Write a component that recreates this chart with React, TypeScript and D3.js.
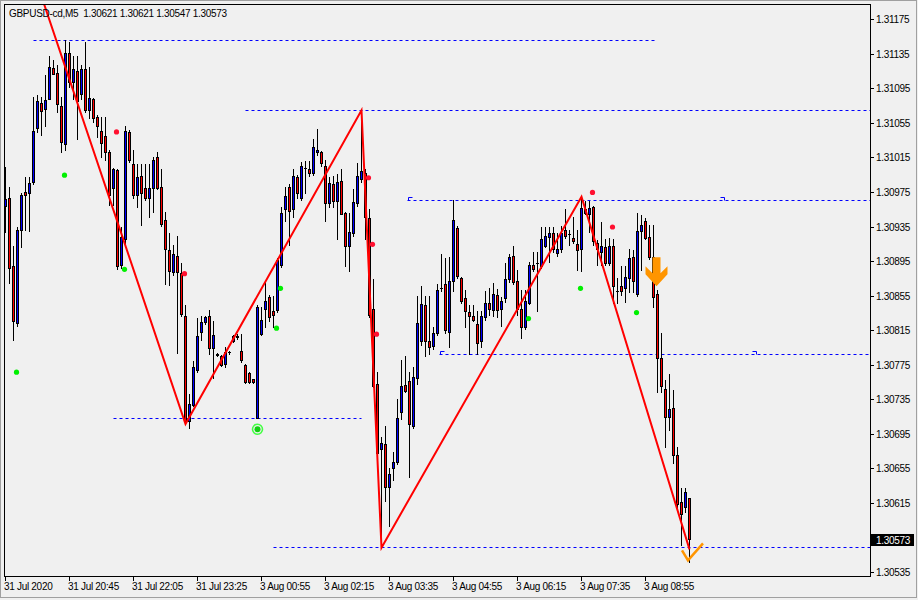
import { useEffect, useRef } from 'react';
import * as d3 from 'd3';

// =============================================================================
// Data
// =============================================================================

const headerText = 'GBPUSD-cd,M5  1.30621 1.30621 1.30547 1.30573';

// open, high, low, close — one per 5 minute bar
const bars: [number, number, number, number][] = [
  [1.30959, 1.31004, 1.30929, 1.30967], [1.30968, 1.30981, 1.3087, 1.30887], [1.30889, 1.30912, 1.30804, 1.30826],
  [1.30823, 1.30934, 1.3082, 1.30931], [1.30931, 1.30974, 1.30911, 1.30972], [1.30975, 1.30992, 1.30931, 1.30972],
  [1.30974, 1.30992, 1.3093, 1.30985], [1.30987, 1.31085, 1.30984, 1.31045], [1.31049, 1.31087, 1.31044, 1.3108],
  [1.31078, 1.31085, 1.31041, 1.31069], [1.31071, 1.3111, 1.31051, 1.31081], [1.31082, 1.31132, 1.31082, 1.3112],
  [1.31118, 1.31128, 1.31111, 1.31112], [1.31113, 1.31122, 1.31067, 1.31077], [1.31075, 1.31085, 1.31021, 1.31033],
  [1.3103, 1.31151, 1.31024, 1.31136], [1.31136, 1.31148, 1.31096, 1.31102], [1.31102, 1.31132, 1.31082, 1.31117],
  [1.31115, 1.31132, 1.31036, 1.3108], [1.31088, 1.31122, 1.31082, 1.31117], [1.31117, 1.31148, 1.31067, 1.3107],
  [1.3107, 1.3112, 1.31061, 1.31084], [1.31083, 1.31084, 1.31056, 1.31061], [1.31062, 1.31064, 1.31039, 1.31051],
  [1.31045, 1.31062, 1.31015, 1.31032], [1.3104, 1.31062, 1.31012, 1.31021], [1.31021, 1.31024, 1.3096, 1.30971],
  [1.3098, 1.31003, 1.3096, 1.31001], [1.31, 1.31001, 1.30886, 1.30889], [1.3089, 1.30934, 1.30887, 1.30923],
  [1.30921, 1.31051, 1.30916, 1.31045], [1.31044, 1.31047, 1.3101, 1.31012], [1.31007, 1.31024, 1.30968, 1.30971],
  [1.30972, 1.31007, 1.30958, 1.30992], [1.30994, 1.31007, 1.30937, 1.30974], [1.30979, 1.31007, 1.30966, 1.30968],
  [1.30968, 1.31007, 1.30946, 1.3098], [1.3098, 1.31016, 1.30952, 1.31012], [1.31016, 1.31021, 1.30978, 1.3098],
  [1.30981, 1.31001, 1.30936, 1.30938], [1.30942, 1.30952, 1.30868, 1.30909], [1.30908, 1.30928, 1.30867, 1.30883],
  [1.30882, 1.30914, 1.30879, 1.30903], [1.30901, 1.30924, 1.30789, 1.30882], [1.30881, 1.30893, 1.30832, 1.30834],
  [1.30832, 1.30844, 1.30707, 1.3071], [1.3071, 1.30741, 1.30702, 1.3073], [1.30729, 1.30779, 1.30727, 1.30772],
  [1.30769, 1.30829, 1.30767, 1.30808], [1.30813, 1.30831, 1.30804, 1.30824], [1.30824, 1.30832, 1.30822, 1.3083],
  [1.30831, 1.30838, 1.30788, 1.30794], [1.30794, 1.30826, 1.3076, 1.30809], [1.30787, 1.30789, 1.30785, 1.30786],
  [1.30785, 1.30786, 1.30774, 1.30775], [1.30776, 1.30796, 1.30773, 1.3079], [1.3079, 1.30791, 1.30787, 1.3079],
  [1.30802, 1.3081, 1.30801, 1.30808], [1.30808, 1.30811, 1.30805, 1.30807], [1.30791, 1.30811, 1.30778, 1.3078],
  [1.30775, 1.30776, 1.30754, 1.30755], [1.30766, 1.30767, 1.30754, 1.30755], [1.30758, 1.30758, 1.30754, 1.30755],
  [1.30714, 1.30844, 1.30713, 1.30842], [1.30811, 1.30842, 1.3081, 1.30827], [1.3084, 1.30871, 1.30819, 1.30849],
  [1.30854, 1.30856, 1.30826, 1.3083], [1.30837, 1.30855, 1.30819, 1.30833], [1.30838, 1.30898, 1.30836, 1.30896],
  [1.3089, 1.30957, 1.30888, 1.30951], [1.30955, 1.30981, 1.30941, 1.3097], [1.30981, 1.30984, 1.30914, 1.30953],
  [1.30955, 1.31002, 1.30946, 1.30994], [1.30992, 1.30995, 1.30968, 1.30974], [1.30968, 1.3101, 1.30966, 1.31005],
  [1.31003, 1.31011, 1.30974, 1.31003], [1.31002, 1.31011, 1.30993, 1.30997], [1.30997, 1.31036, 1.30995, 1.31027],
  [1.31021, 1.31048, 1.31018, 1.31023], [1.31021, 1.31022, 1.31005, 1.31008], [1.31005, 1.31012, 1.30941, 1.30962],
  [1.30962, 1.30992, 1.30958, 1.30985], [1.30984, 1.30994, 1.30958, 1.30964], [1.30964, 1.30996, 1.3092, 1.30987],
  [1.30988, 1.31001, 1.30949, 1.3095], [1.30951, 1.30952, 1.30889, 1.30912], [1.30913, 1.30951, 1.30883, 1.30929],
  [1.30927, 1.30978, 1.30924, 1.30963], [1.30962, 1.31009, 1.30959, 1.30993], [1.3099, 1.3107, 1.30987, 1.30999],
  [1.30997, 1.31001, 1.3092, 1.30946], [1.30945, 1.30955, 1.3083, 1.30833], [1.3084, 1.30874, 1.30749, 1.30751],
  [1.30753, 1.30767, 1.30665, 1.30673], [1.30677, 1.30691, 1.30564, 1.30685], [1.30683, 1.30704, 1.30617, 1.30634],
  [1.30634, 1.30655, 1.30588, 1.30649], [1.30655, 1.30674, 1.30642, 1.30663], [1.30662, 1.30735, 1.3066, 1.30714],
  [1.3072, 1.30781, 1.30712, 1.30751], [1.30752, 1.30785, 1.30744, 1.30745], [1.30756, 1.30767, 1.30645, 1.30707],
  [1.30704, 1.30773, 1.30702, 1.30761], [1.3076, 1.30855, 1.30753, 1.30823], [1.30802, 1.30866, 1.30798, 1.30845],
  [1.30844, 1.30855, 1.30785, 1.30802], [1.30802, 1.30855, 1.30787, 1.30796], [1.30797, 1.30819, 1.30793, 1.30812],
  [1.30812, 1.30868, 1.3081, 1.30861], [1.30864, 1.30903, 1.3086, 1.30864], [1.30869, 1.30899, 1.30812, 1.30815],
  [1.30813, 1.309, 1.30796, 1.30872], [1.30872, 1.30966, 1.3086, 1.30942], [1.30933, 1.30936, 1.30876, 1.30878],
  [1.30875, 1.30877, 1.30847, 1.30849], [1.30852, 1.30862, 1.30819, 1.30837], [1.30836, 1.30844, 1.30787, 1.30831],
  [1.30832, 1.30844, 1.30826, 1.30827], [1.30822, 1.30837, 1.30788, 1.308], [1.30803, 1.30837, 1.30796, 1.30832],
  [1.3083, 1.3086, 1.30827, 1.30846], [1.30847, 1.30864, 1.30833, 1.30839], [1.30838, 1.3087, 1.30831, 1.30857],
  [1.30856, 1.30863, 1.3083, 1.30838], [1.30839, 1.30853, 1.3082, 1.30849], [1.30852, 1.30893, 1.30848, 1.30874],
  [1.30874, 1.30903, 1.30871, 1.309], [1.30901, 1.30912, 1.30869, 1.30871], [1.30872, 1.30885, 1.30833, 1.3084],
  [1.3084, 1.30862, 1.30806, 1.30819], [1.30819, 1.30862, 1.30816, 1.30849], [1.30847, 1.30894, 1.30845, 1.30891],
  [1.3089, 1.30905, 1.30883, 1.30886], [1.30893, 1.30905, 1.30837, 1.30893], [1.30889, 1.30935, 1.30887, 1.3092],
  [1.30913, 1.30935, 1.30911, 1.30924], [1.30923, 1.30935, 1.30894, 1.30928], [1.30927, 1.30935, 1.30906, 1.30909],
  [1.30904, 1.30928, 1.30901, 1.30909], [1.30909, 1.30936, 1.30905, 1.30928], [1.30931, 1.30955, 1.30922, 1.30924],
  [1.30926, 1.30931, 1.30914, 1.30926], [1.30922, 1.30946, 1.30916, 1.30918], [1.30915, 1.30931, 1.30885, 1.30908],
  [1.30909, 1.3097, 1.30883, 1.30956], [1.30951, 1.30964, 1.30949, 1.30955], [1.3095, 1.30964, 1.30929, 1.30956],
  [1.30957, 1.30959, 1.30914, 1.30918], [1.30916, 1.30919, 1.30891, 1.30909], [1.30905, 1.3094, 1.30891, 1.30913],
  [1.30911, 1.30921, 1.30891, 1.30893], [1.30893, 1.30922, 1.3089, 1.30912], [1.30913, 1.3092, 1.30846, 1.30866],
  [1.3086, 1.30876, 1.30847, 1.3086], [1.30866, 1.30889, 1.30856, 1.3086], [1.30864, 1.30889, 1.30848, 1.30877],
  [1.30876, 1.30909, 1.30859, 1.30898], [1.309, 1.30908, 1.30859, 1.30872], [1.30857, 1.30951, 1.30855, 1.3093],
  [1.3093, 1.30948, 1.30885, 1.30937], [1.30941, 1.30945, 1.3092, 1.30922], [1.30923, 1.30937, 1.30897, 1.309],
  [1.309, 1.30937, 1.30842, 1.30853], [1.30857, 1.30862, 1.30744, 1.30783], [1.30783, 1.30812, 1.30744, 1.30751],
  [1.30747, 1.30757, 1.3068, 1.30715], [1.30715, 1.30764, 1.307, 1.30724], [1.30725, 1.30746, 1.30661, 1.30671],
  [1.30671, 1.3068, 1.30607, 1.30614], [1.30616, 1.30632, 1.30567, 1.30602], [1.30611, 1.30633, 1.30605, 1.30628],
  [1.30621, 1.30621, 1.30547, 1.30573],
];

const priceTicks = [
  1.31175, 1.31135, 1.31095, 1.31055, 1.31015, 1.30975, 1.30935, 1.30895, 1.30855,
  1.30815, 1.30775, 1.30735, 1.30695, 1.30655, 1.30615, 1.30535,
];

const timeTickBars = [0, 16, 32, 48, 64, 80, 96, 112, 128, 144, 160];
const timeTickLabels = [
  '31 Jul 2020', '31 Jul 20:45', '31 Jul 22:05', '31 Jul 23:25', '3 Aug 00:55', '3 Aug 02:15',
  '3 Aug 03:35', '3 Aug 04:55', '3 Aug 06:15', '3 Aug 07:35', '3 Aug 08:55',
];

const zigzagBars = [-2, 45, 89, 94, 144, 171];
const zigzagPrices = [1.31353, 1.30707, 1.3107, 1.30564, 1.3097, 1.30562];

// horizontal levels: price, first bar, last bar (null = to the right edge)
const levelPrices = [1.31151, 1.3107, 1.30966, 1.30787, 1.30713, 1.30564];
const levelFrom = [7, 60, 100.5, 108.5, 27, 67];
const levelTo: (number | null)[] = [162.5, null, null, null, 89, null];
const levelMarks: number[][] = [[], [], [100.5, 178.5], [108.5, 186.5], [], []];

const greenDotBars = [3, 15, 30, 68, 69, 131, 144, 158];
const greenDotPrices = [1.30767, 1.30995, 1.30886, 1.30818, 1.30864, 1.30829, 1.30864, 1.30836];
const redDotBars = [28, 45, 91, 92, 93, 147, 152];
const redDotPrices = [1.31045, 1.30881, 1.30992, 1.30915, 1.30811, 1.30975, 1.30935];

const targetBar = 63;
const targetPrice = 1.30701;
const sellArrowBar = 163;
const sellArrowPrice = 1.309;
const checkBar = 171;
const checkPrice = 1.30547;
const lastPrice = 1.30573;

// =============================================================================
// Constants
// =============================================================================

const WIDTH = 918;
const HEIGHT = 600;
const FRAME = { left: 4, top: 4, right: 870, bottom: 576 };
const FONT = 'Liberation Sans, Arial, sans-serif';
const BG = '#f0f0f0';
const BULL = '#0000ff';
const BEAR = '#ff0000';
const ORANGE = '#ff9500';

// =============================================================================
// Component
// =============================================================================

export default function App() {
  const svgRef = useRef<SVGSVGElement>(null);

  useEffect(() => {
    document.body.style.margin = '0';
    if (!svgRef.current) return;
    const svg = d3.select(svgRef.current);
    svg.selectAll('*').remove();

    // bar index -> pixel column centre, price -> pixel
    const x = d3.scaleLinear().domain([0, 1]).range([5.5, 9.5]);
    const y = d3.scaleLinear().domain([1.30535, 1.31175]).range([572.7, 19.6]);
    const row = (p: number) => Math.floor(y(p));

    // backgrounds
    svg.append('rect').attr('width', WIDTH).attr('height', HEIGHT).attr('fill', BG);
    svg.append('rect')
      .attr('x', 0.5).attr('y', 0.5)
      .attr('width', 916).attr('height', 597)
      .attr('fill', 'none').attr('stroke', '#a0a0a0');

    svg.append('defs').append('clipPath').attr('id', 'plot')
      .append('rect')
      .attr('x', FRAME.left + 1).attr('y', FRAME.top + 1)
      .attr('width', FRAME.right - FRAME.left - 1)
      .attr('height', FRAME.bottom - FRAME.top - 1);

    const plot = svg.append('g').attr('clip-path', 'url(#plot)');

    // levels
    levelPrices.forEach((p, i) => {
      const yy = row(p) + 0.5;
      const x2 = levelTo[i] === null ? FRAME.right : x(levelTo[i] as number);
      plot.append('line')
        .attr('x1', x(levelFrom[i])).attr('x2', x2)
        .attr('y1', yy).attr('y2', yy)
        .attr('stroke', '#0000ff').attr('stroke-width', 1)
        .attr('stroke-dasharray', '3,3');
      levelMarks[i].forEach((b, k) => {
        const mx = Math.round(x(b)) + 0.5;
        const d = k === 0
          ? `M${mx},${yy} V${yy - 3} H${mx + 4}`
          : `M${mx},${yy - 3} H${mx + 4} V${yy}`;
        plot.append('path').attr('d', d)
          .attr('fill', 'none').attr('stroke', '#0000ff').attr('stroke-width', 1);
      });
    });

    // candles: black wick, black-outlined body with coloured core
    bars.forEach(([o, h, l, c], i) => {
      const cx = x(i);
      const hi = row(h);
      const lo = row(l);
      plot.append('line')
        .attr('x1', cx).attr('x2', cx)
        .attr('y1', hi).attr('y2', lo + 1)
        .attr('stroke', '#000').attr('stroke-width', 1);
      const top = row(Math.max(o, c));
      const bot = row(Math.min(o, c));
      plot.append('rect')
        .attr('x', cx - 1.5).attr('y', top)
        .attr('width', 3).attr('height', bot - top + 1)
        .attr('fill', '#000');
      if (bot - top >= 2) {
        plot.append('rect')
          .attr('x', cx - 0.5).attr('y', top + 1)
          .attr('width', 1).attr('height', bot - top - 1)
          .attr('fill', c >= o ? BULL : BEAR);
      }
    });

    // zigzag
    const zz = d3.line<number>()
      .x((b) => x(b))
      .y((_, k) => y(zigzagPrices[k]));
    plot.append('path')
      .attr('d', zz(zigzagBars))
      .attr('fill', 'none')
      .attr('stroke', '#ff0000')
      .attr('stroke-width', 2);

    // signal dots
    greenDotBars.forEach((b, k) => {
      plot.append('circle')
        .attr('cx', x(b) - 1).attr('cy', y(greenDotPrices[k]))
        .attr('r', 2.6).attr('fill', '#00f000');
    });
    redDotBars.forEach((b, k) => {
      plot.append('circle')
        .attr('cx', x(b) - 1).attr('cy', y(redDotPrices[k]))
        .attr('r', 2.6).attr('fill', '#ff1030');
    });

    // target marker
    const tx = x(targetBar);
    const ty = y(targetPrice);
    plot.append('circle').attr('cx', tx).attr('cy', ty).attr('r', 5)
      .attr('fill', 'none').attr('stroke', '#44ff44').attr('stroke-width', 1.6);
    plot.append('circle').attr('cx', tx).attr('cy', ty).attr('r', 3)
      .attr('fill', '#10d010');

    // sell arrow
    const ax = x(sellArrowBar) - 1;
    const ay = y(sellArrowPrice);
    plot.append('path')
      .attr('d', `M${ax - 4},${ay} H${ax + 4} V${ay + 16} L${ax + 11},${ay + 9} V${ay + 17}
        L${ax},${ay + 29} L${ax - 11},${ay + 17} V${ay + 9} L${ax - 4},${ay + 16} Z`)
      .attr('fill', ORANGE);

    // check mark
    const kx = x(checkBar);
    const ky = y(checkPrice);
    plot.append('path')
      .attr('d', `M${kx - 7.5},${ky - 12} L${kx - 1.5},${ky - 2} L${kx + 13.5},${ky - 19}`)
      .attr('fill', 'none')
      .attr('stroke', ORANGE)
      .attr('stroke-width', 2.5);

    // frame
    svg.append('rect')
      .attr('x', FRAME.left + 0.5).attr('y', FRAME.top + 0.5)
      .attr('width', FRAME.right - FRAME.left).attr('height', FRAME.bottom - FRAME.top)
      .attr('fill', 'none').attr('stroke', '#000').attr('stroke-width', 1);

    // price axis
    priceTicks.forEach((p) => {
      const yy = row(p) + 0.5;
      svg.append('line')
        .attr('x1', FRAME.right + 1).attr('x2', FRAME.right + 4)
        .attr('y1', yy).attr('y2', yy)
        .attr('stroke', '#000');
      svg.append('text')
        .attr('x', 876).attr('y', yy + 3.5)
        .attr('font-family', FONT).attr('font-size', '10px')
        .attr('letter-spacing', '-0.3px')
        .attr('fill', '#000')
        .text(p.toFixed(5));
    });

    // last price tag
    const ly = Math.round(y(lastPrice));
    svg.append('rect')
      .attr('x', FRAME.right + 1).attr('y', ly - 6)
      .attr('width', 43).attr('height', 12)
      .attr('fill', '#000');
    svg.append('text')
      .attr('x', 876).attr('y', ly + 4)
      .attr('font-family', FONT).attr('font-size', '10px')
      .attr('letter-spacing', '-0.3px')
      .attr('fill', '#fff')
      .text(lastPrice.toFixed(5));

    // time axis
    timeTickBars.forEach((b, k) => {
      const xx = x(b);
      svg.append('line')
        .attr('x1', xx).attr('x2', xx)
        .attr('y1', FRAME.bottom + 1).attr('y2', FRAME.bottom + 5)
        .attr('stroke', '#000');
      svg.append('text')
        .attr('x', xx - 1.5).attr('y', 590)
        .attr('font-family', FONT).attr('font-size', '10px')
        .attr('letter-spacing', '-0.3px')
        .attr('fill', '#000')
        .text(timeTickLabels[k]);
    });

    // header
    svg.append('text')
      .attr('x', 9).attr('y', 17)
      .attr('font-family', FONT).attr('font-size', '10px')
      .attr('letter-spacing', '-0.3px')
      .attr('fill', '#000')
      .attr('xml:space', 'preserve')
      .style('white-space', 'pre')
      .text(headerText);
  }, []);

  return (
    <svg
      ref={svgRef}
      width={WIDTH}
      height={HEIGHT}
      style={{ display: 'block' }}
    />
  );
}
